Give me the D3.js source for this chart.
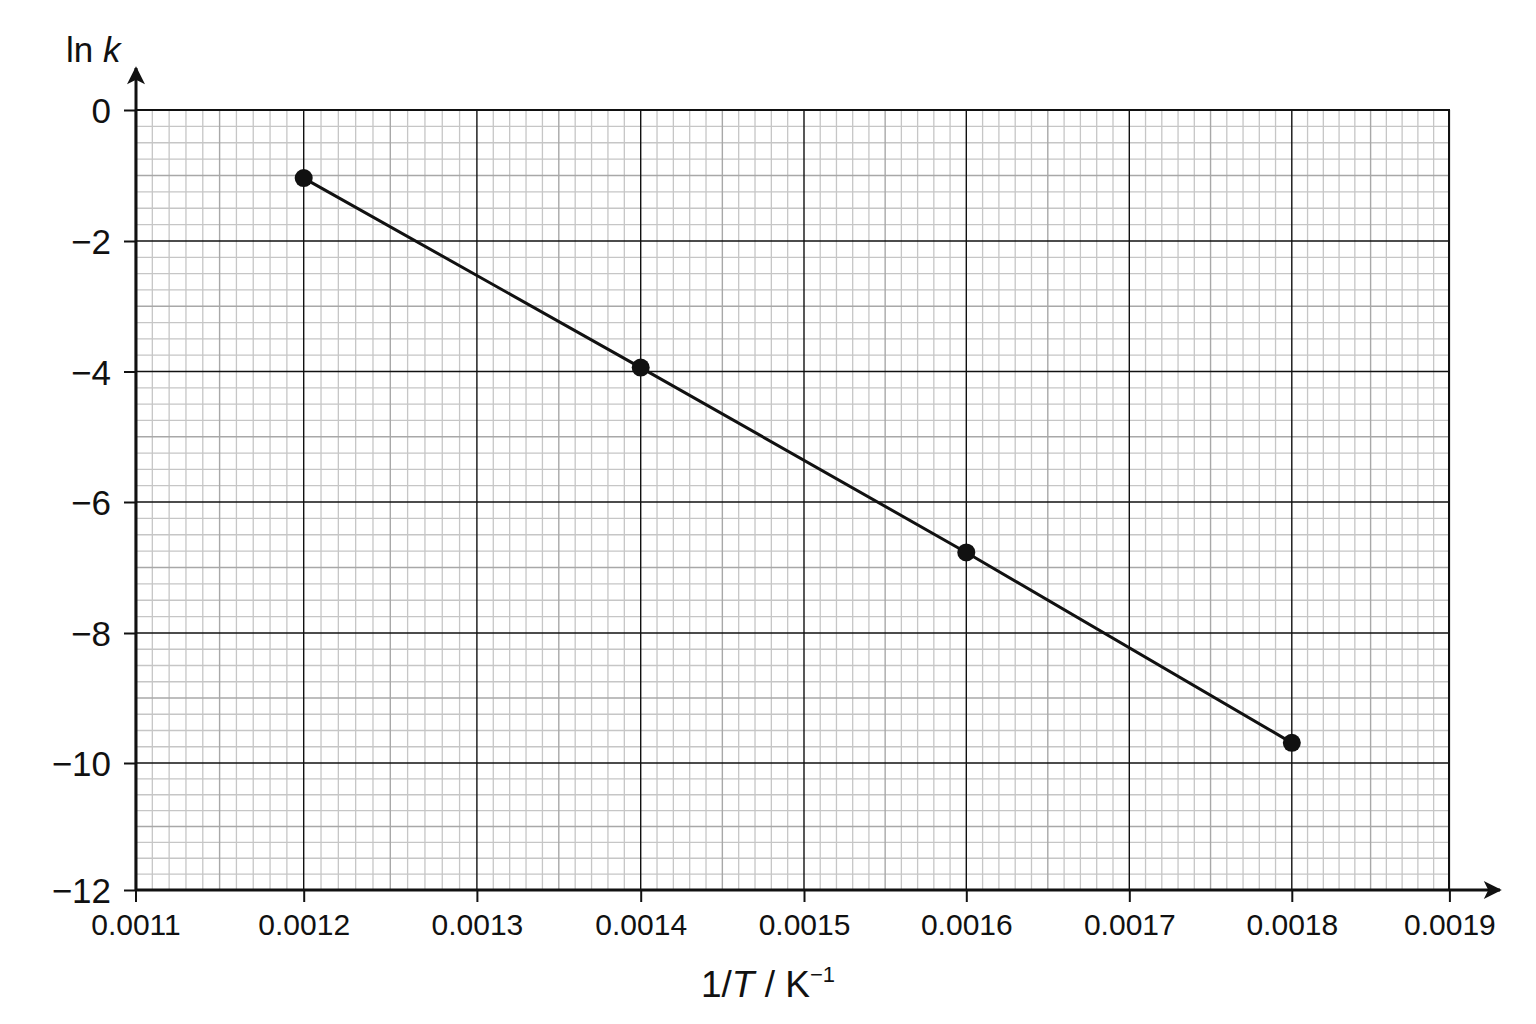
<!DOCTYPE html>
<html>
<head>
<meta charset="utf-8">
<script src="https://cdn.jsdelivr.net/npm/d3@7"></script>
<style>
  body { margin: 0; background: #fff; }
  text { font-family: "Liberation Sans", Arial, sans-serif; fill: #111; }
</style>
</head>
<body>
<script>
(function(){

    // Data
    var invT = [0.0012, 0.0014, 0.0016, 0.0018];
    var lnK = [-1.04, -3.94, -6.77, -9.69];
    var xTicks = [0.0011, 0.0012, 0.0013, 0.0014, 0.0015, 0.0016, 0.0017, 0.0018, 0.0019];
    var yTicks = [0, -2, -4, -6, -8, -10, -12];

    window.onload = setChart;

    function setChart(){
        var width = 1536,
            height = 1024,
            left = 136,
            right = 1449,
            top = 110,
            bottom = 890;

        var svg = d3.select("body")
            .append("svg")
            .attr("width", width)
            .attr("height", height);

        // the printed paper is not quite even, so map each major line to where it sits
        var xPos = [135.5, 303.7, 476.9, 640.7, 804, 966.3, 1129.3, 1291.8, 1449.4];
        var yPos = [110, 241, 371.5, 502, 633, 763, 890];

        var x = d3.scaleLinear().domain(xTicks).range(xPos);
        var y = d3.scaleLinear().domain(yTicks).range(yPos);

        // graph paper grid
        var grid = svg.append("g").attr("class", "grid");

        var xMinor = d3.ticks(0.0011, 0.0019, 80);
        var yMinor = d3.range(-12, 0.001, 0.25);

        function xLevel(v){
            var n = Math.round(v * 100000);
            if (n % 10 === 0) return 2;
            if (n % 5 === 0) return 1;
            return 0;
        }
        function yLevel(v){
            var n = Math.round(v * 4);
            if (n % 8 === 0) return 2;
            if (n % 4 === 0) return 1;
            return 0;
        }
        var strokes = ["#c6c6c6", "#a8a8a8", "#111"];
        var widths = [1.3, 1.4, 1.4];

        // draw minor first, then mid, then major
        [0, 1, 2].forEach(function(lvl){
            grid.selectAll(".vx" + lvl)
                .data(xMinor.filter(function(d){ return xLevel(d) === lvl; }))
                .enter()
                .append("line")
                .attr("x1", function(d){ return x(d); })
                .attr("x2", function(d){ return x(d); })
                .attr("y1", top)
                .attr("y2", bottom)
                .attr("stroke", strokes[lvl])
                .attr("stroke-width", widths[lvl]);

            grid.selectAll(".hy" + lvl)
                .data(yMinor.filter(function(d){ return yLevel(d) === lvl; }))
                .enter()
                .append("line")
                .attr("y1", function(d){ return y(d); })
                .attr("y2", function(d){ return y(d); })
                .attr("x1", left)
                .attr("x2", right)
                .attr("stroke", strokes[lvl])
                .attr("stroke-width", widths[lvl]);
        });

        // frame top/right
        grid.append("path")
            .attr("d", "M" + left + "," + top + "H" + right + "V" + bottom)
            .attr("fill", "none")
            .attr("stroke", "#111")
            .attr("stroke-width", 2);

        // arrow marker
        svg.append("defs").append("marker")
            .attr("id", "arrow")
            .attr("viewBox", "0 0 10 10")
            .attr("refX", 9)
            .attr("refY", 5)
            .attr("markerWidth", 7.5)
            .attr("markerHeight", 6)
            .attr("markerUnits", "strokeWidth")
            .attr("orient", "auto")
            .append("path")
            .attr("d", "M0,0L10,5L0,10L2.5,5Z")
            .attr("fill", "#111");

        // axes
        var xAxis = d3.axisBottom(x)
            .tickValues(xTicks)
            .tickSize(12)
            .tickFormat(d3.format(".4f"));

        var gx = svg.append("g")
            .attr("transform", "translate(0," + bottom + ")")
            .call(xAxis);
        gx.select(".domain").remove();
        gx.selectAll(".tick line").attr("stroke", "#111").attr("stroke-width", 2);
        gx.selectAll(".tick text")
            .attr("y", 45)
            .attr("dy", 0)
            .style("font-size", "30px")
            .style("font-family", "'Liberation Sans', Arial, sans-serif")
            .attr("fill", "#111");

        var yAxis = d3.axisLeft(y)
            .tickValues(yTicks)
            .tickSize(12)
            .tickFormat(d3.format("d"));

        var gy = svg.append("g")
            .attr("transform", "translate(" + left + ",0)")
            .call(yAxis);
        gy.select(".domain").remove();
        gy.selectAll(".tick line").attr("stroke", "#111").attr("stroke-width", 2);
        gy.selectAll(".tick text")
            .attr("x", -25)
            .attr("dy", "0.36em")
            .style("font-size", "35px")
            .style("font-family", "'Liberation Sans', Arial, sans-serif")
            .attr("fill", "#111");

        svg.append("line")
            .attr("x1", left).attr("y1", bottom)
            .attr("x2", 1500).attr("y2", bottom)
            .attr("stroke", "#111")
            .attr("stroke-width", 3)
            .attr("marker-end", "url(#arrow)");

        svg.append("line")
            .attr("x1", left).attr("y1", bottom)
            .attr("x2", left).attr("y2", 68)
            .attr("stroke", "#111")
            .attr("stroke-width", 3)
            .attr("marker-end", "url(#arrow)");

        // data line and points
        var pts = invT.map(function(d, i){ return [d, lnK[i]]; });

        var line = d3.line()
            .x(function(d){ return x(d[0]); })
            .y(function(d){ return y(d[1]); });

        svg.append("path")
            .datum(pts)
            .attr("d", line)
            .attr("fill", "none")
            .attr("stroke", "#111")
            .attr("stroke-width", 3);

        svg.selectAll(".pt")
            .data(pts)
            .enter()
            .append("circle")
            .attr("class", "pt")
            .attr("cx", function(d){ return x(d[0]); })
            .attr("cy", function(d){ return y(d[1]); })
            .attr("r", 9)
            .attr("fill", "#111");

        // axis titles
        var yt = svg.append("text")
            .attr("x", 66)
            .attr("y", 62)
            .style("font-size", "35px");
        yt.append("tspan").text("ln ");
        yt.append("tspan").style("font-style", "italic").text("k");

        var xt = svg.append("text")
            .attr("x", 768)
            .attr("y", 997)
            .attr("text-anchor", "middle")
            .style("font-size", "37px");
        xt.append("tspan").text("1/");
        xt.append("tspan").style("font-style", "italic").text("T");
        xt.append("tspan").text(" / K");
        xt.append("tspan")
            .attr("dy", -15)
            .style("font-size", "22px")
            .text("\u22121");
    }

})();
</script>
</body>
</html>
